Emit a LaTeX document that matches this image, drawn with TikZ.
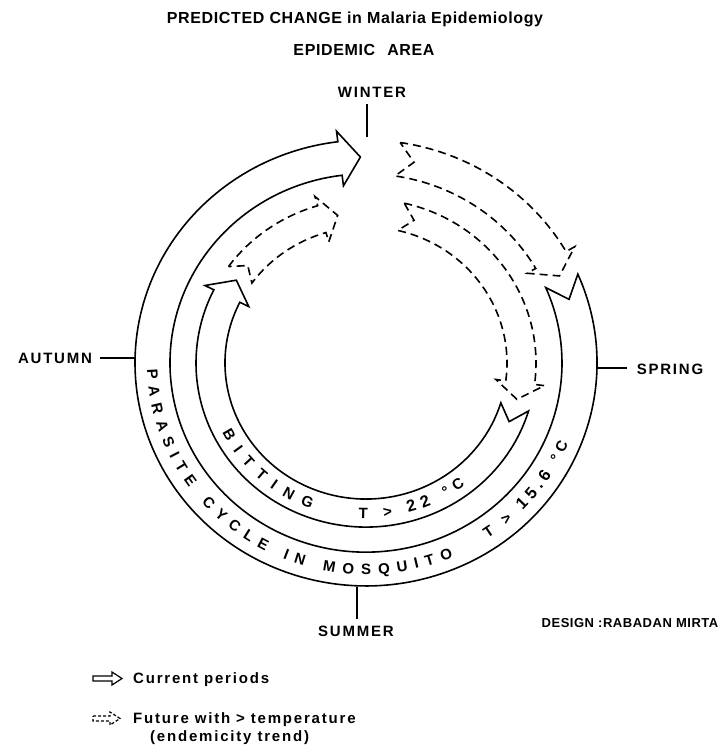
\documentclass[tikz,border=0pt]{standalone}
\usepackage{fontspec}
\setmainfont{Liberation Sans}
\newfontfamily\titlefont{Liberation Sans}[LetterSpace=4]
\newfontfamily\labelfont{Liberation Sans}[LetterSpace=12]
\usetikzlibrary{decorations.text}

\newcommand\ringfont{\fontsize{15}{15}\selectfont\bfseries}
\newcommand\numfont{\fontsize{16.5}{16.5}\selectfont\bfseries}

% band arrow: style, inner r, outer r, tail, notch, head base, tip, barb
\newcommand\bandarrow[8]{%
  \pgfmathsetmacro\rmid{(#2+#3)/2}
  \pgfmathsetmacro\rbout{#3+#8}
  \pgfmathsetmacro\rbin{#2-#8}
  \draw[#1] (#4:#3) arc[start angle=#4, end angle=#6, radius=#3]
    -- (#6:\rbout) -- (#7:\rmid) -- (#6:\rbin) -- (#6:#2)
    arc[start angle=#6, end angle=#4, radius=#2] -- (#5:\rmid) -- cycle;
}

\begin{document}
\begin{tikzpicture}[
    x=1pt, y=1pt,
    band/.style={line width=1.6pt, line join=miter},
    future/.style={band, dash pattern=on 8pt off 5pt},
    tick/.style={line width=1.6pt},
    heading/.style={font=\titlefont\bfseries\fontsize{16}{18}\selectfont, inner sep=0pt},
    season/.style={font=\labelfont\bfseries\fontsize{15}{17}\selectfont, inner sep=0pt},
    legend/.style={season, anchor=west},
    ringtext/.style={decorate, decoration={text along path, text align=fit to path, text={#1}}}
]
    \useasboundingbox (0,0) rectangle (721,-749);

    \node[heading] (title) at (355,-19) {PREDICTED CHANGE in Malaria Epidemiology};
    \node[heading] (area) at (364,-50) {EPIDEMIC\hspace{12pt}AREA};

    \node[season] (winter) at (372,-92) {WINTER};
    \node[season] (autumn) at (55,-358) {AUTUMN};
    \node[season] (spring) at (670,-369) {SPRING};
    \node[season] (summer) at (356,-631) {SUMMER};
    \node[heading, font=\titlefont\bfseries\fontsize{13}{15}\selectfont] (design) at (630,-623) {DESIGN :RABADAN MIRTA};

    \coordinate (wtick) at (367,-137);
    \coordinate (atick) at (136,-358);
    \coordinate (stick) at (597,-368);
    \coordinate (utick) at (357,-587);
    \draw[tick] ([yshift=-7pt]winter.south -| wtick) -- (wtick);
    \draw[tick] ([xshift=8pt]autumn.east |- atick) -- (atick);
    \draw[tick] ([xshift=-10pt]spring.west |- stick) -- (stick);
    \draw[tick] ([yshift=6pt]summer.north -| utick) -- (utick);

    \begin{scope}[shift={(366,-363)}, yscale=0.965]
        \bandarrow{band}{196}{231}{23.5}{18}{-263}{-268.5}{11}
        \bandarrow{future}{196}{231}{81.5}{77}{30}{25}{10}
        \bandarrow{band}{141}{170}{-17}{-23}{-206.5}{-213.5}{10}
        \bandarrow{future}{141}{170}{144}{139.5}{106.5}{100.5}{10}
        \bandarrow{future}{141}{170}{77}{72}{-7.5}{-14}{10}

        \path[ringtext={|\ringfont|PARASITE CYCLE IN MOSQUITO}] (181.7:219) arc[start angle=181.7, end angle=293.5, radius=219];
        \path[ringtext={|\ringfont|T > |\numfont|15.6|\ringfont| °C}] (303.7:219) arc[start angle=303.7, end angle=337.5, radius=219];
        \path[ringtext={|\ringfont|BITTING}] (206.7:161) arc[start angle=206.7, end angle=250, radius=161];
        \path[ringtext={|\ringfont|T > |\numfont|22|\ringfont| °C}] (267.4:161) arc[start angle=267.4, end angle=308, radius=161];
    \end{scope}

    % legend
    \draw[band, line width=1.2pt] (93,-676) -- (112,-676) -- (112,-672) -- (122,-678.5) -- (112,-685) -- (112,-681) -- (93,-681) -- cycle;
    \draw[band, line width=1.2pt, dash pattern=on 3pt off 2pt] (93,-716) -- (110,-716) -- (110,-712) -- (120,-718.5) -- (110,-725) -- (110,-721) -- (93,-721) -- cycle;
    \node[legend] (current) at (133,-680) {Current periods};
    \node[legend] (future) at (133,-720) {Future with > temperature};
    \node[legend] (trend) at (150,-738) {(endemicity trend)};

\end{tikzpicture}
\end{document}
